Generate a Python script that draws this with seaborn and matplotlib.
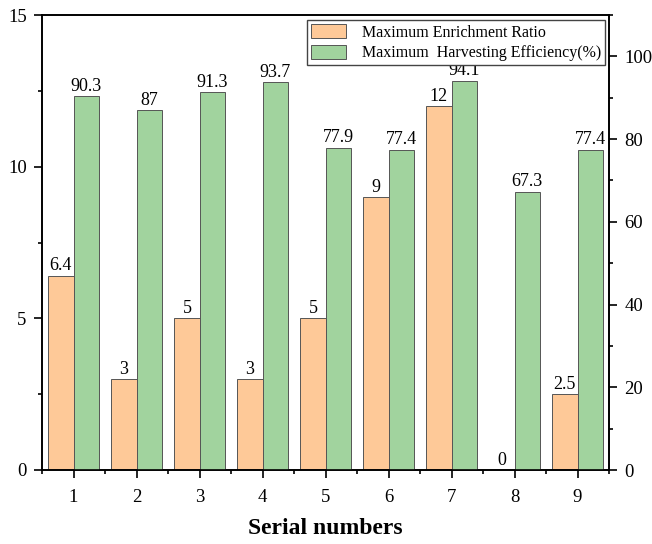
import matplotlib
matplotlib.use("Agg")
import matplotlib.pyplot as plt
import seaborn as sns
import pandas as pd
from matplotlib.ticker import MultipleLocator, FixedLocator

serials = ["1", "2", "3", "4", "5", "6", "7", "8", "9"]
ratio = [6.4, 3, 5, 3, 5, 9, 12, 0, 2.5]
efficiency = [90.3, 87, 91.3, 93.7, 77.9, 77.4, 94.1, 67.3, 77.4]
ratio_labels = ["6.4", "3", "5", "3", "5", "9", "12", "0", "2.5"]
eff_labels = ["90.3", "87", "91.3", "93.7", "77.9", "77.4", "94.1", "67.3", "77.4"]
series = ["Maximum Enrichment Ratio", "Maximum  Harvesting Efficiency(%)"]
colors = {series[0]: "#FEC998", series[1]: "#A1D39E"}

sns.set_style("ticks")
plt.rcParams["font.family"] = ["Liberation Serif", "DejaVu Serif"]
plt.rcParams["axes.linewidth"] = 1.2
plt.rcParams["text.color"] = "black"
plt.rcParams["axes.labelcolor"] = "black"
plt.rcParams["xtick.color"] = "black"
plt.rcParams["ytick.color"] = "black"

df1 = pd.DataFrame({"serial": serials, "value": ratio, "series": series[0]})
df2 = pd.DataFrame({"serial": serials, "value": efficiency, "series": series[1]})

fig = plt.figure(figsize=(6.52, 5.44), dpi=100)
ax1 = fig.add_axes([42/652, 1-470/544, 567/652, 455/544])
ax2 = ax1.twinx()

sns.barplot(data=df1, x="serial", y="value", hue="series", hue_order=series,
            order=serials, palette=colors, width=0.8, dodge=True, ax=ax1,
            edgecolor="#555555", linewidth=0.7, legend=False, saturation=1)
sns.barplot(data=df2, x="serial", y="value", hue="series", hue_order=series,
            order=serials, palette=colors, width=0.8, dodge=True, ax=ax2,
            edgecolor="#555555", linewidth=0.7, legend=False, saturation=1)

def valid_container(ax):
    for c in ax.containers:
        if len(c.patches) > 0 and all(p is not None for p in c.patches):
            return c
    return None

c1 = valid_container(ax1)
c2 = valid_container(ax2)

ax1.set_xlim(-0.5, 8.5)
ax1.set_ylim(0, 15)
ax2.set_ylim(0, 110)

ax1.bar_label(c1, labels=ratio_labels, padding=1, fontsize=13, color="black")
ax2.bar_label(c2, labels=eff_labels, padding=1, fontsize=13, color="black")

ax1.yaxis.set_major_locator(MultipleLocator(5))
ax1.yaxis.set_minor_locator(MultipleLocator(2.5))
ax2.yaxis.set_major_locator(MultipleLocator(20))
ax2.yaxis.set_minor_locator(MultipleLocator(10))
ax1.xaxis.set_minor_locator(FixedLocator([i - 0.5 for i in range(10)]))

for ax in (ax1, ax2):
    ax.tick_params(which="major", length=6, width=1.2, labelsize=13.5, pad=5, direction="out",
                   colors="black")
    ax.tick_params(which="minor", length=3, width=1.2, direction="out", colors="black")
    for s in ax.spines.values():
        s.set_visible(True)
        s.set_color("black")
        s.set_linewidth(1.2)
ax1.tick_params(axis="x", which="major", pad=8)
ax2.tick_params(axis="y", which="both", right=True, left=False)
ax1.tick_params(axis="y", which="both", left=True, right=False)
ax1.tick_params(axis="x", which="both", top=False)

ax1.set_ylabel("")
ax2.set_ylabel("")
ax1.set_xlabel("Serial numbers", fontsize=17, fontweight="bold", labelpad=8, color="black")

handles = [c1.patches[0], c2.patches[0]]
leg = ax2.legend(handles, series, loc="upper right", bbox_to_anchor=(0.993, 0.989),
                 borderaxespad=0, fontsize=11.5, fancybox=False, framealpha=1,
                 edgecolor="#444444", handlelength=2.2, handleheight=1.0,
                 borderpad=0.25, labelspacing=0.25, handletextpad=1.0)
leg.get_frame().set_linewidth(1.0)
for t in leg.get_texts():
    t.set_color("black")

fig.savefig("out.png", dpi=100)
